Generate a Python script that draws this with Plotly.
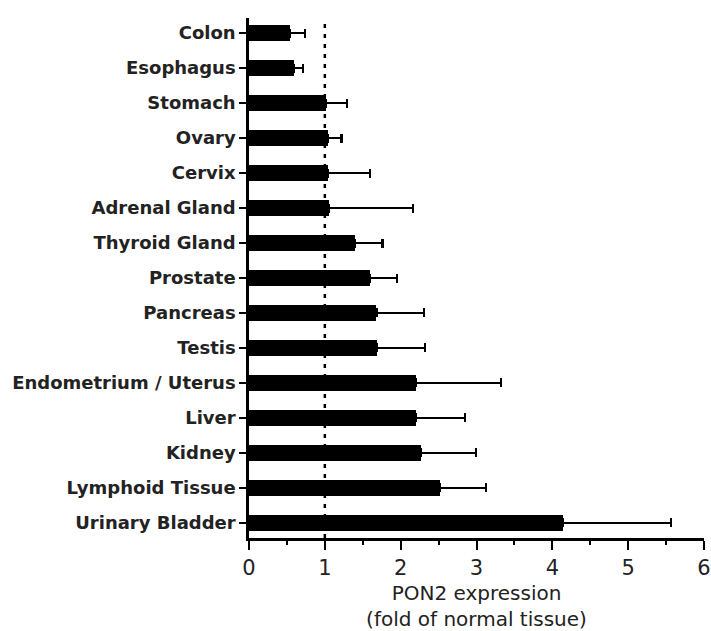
import plotly.graph_objects as go

categories = ["Colon", "Esophagus", "Stomach", "Ovary", "Cervix", "Adrenal Gland",
              "Thyroid Gland", "Prostate", "Pancreas", "Testis", "Endometrium / Uterus",
              "Liver", "Kidney", "Lymphoid Tissue", "Urinary Bladder"]
values = [0.54, 0.59, 1.02, 1.04, 1.04, 1.06, 1.40, 1.59, 1.68, 1.69, 2.20, 2.20, 2.27, 2.52, 4.14]
errors = [0.20, 0.12, 0.27, 0.18, 0.56, 1.10, 0.36, 0.36, 0.63, 0.63, 1.12, 0.65, 0.72, 0.61, 1.43]
x_ticks = [0, 1, 2, 3, 4, 5, 6]
reference_level = 1

fig = go.Figure()
fig.add_trace(go.Bar(
    y=categories, x=values, orientation="h",
    marker=dict(color="black", line=dict(width=0)),
    width=0.48,
    error_x=dict(type="data", array=errors, symmetric=False, arrayminus=[0]*len(errors),
                 color="black", thickness=2.2, width=4.5),
))

fig.add_shape(type="line", xref="x", yref="paper", x0=reference_level, x1=reference_level,
              y0=0, y1=1, line=dict(color="black", width=2.5, dash="4px,6px"), layer="above")

fig.update_layout(
    width=711, height=631,
    margin=dict(l=249, r=7, t=18, b=93),
    plot_bgcolor="white", paper_bgcolor="white",
    showlegend=False,
    bargap=0,
    font=dict(family="DejaVu Sans", color="#222"),
    xaxis=dict(
        range=[0, 6], tickvals=x_ticks, showgrid=False, zeroline=False, automargin=False,
        showline=True, linecolor="black", linewidth=2.5,
        ticks="outside", ticklen=9, tickwidth=2, tickcolor="black",
        minor=dict(ticks="outside", ticklen=4, tickwidth=2, dtick=0.5, tickcolor="black", showgrid=False),
        tickfont=dict(family="DejaVu Sans", size=21, color="#222"),
        title=dict(text="PON2 expression<br>(fold of normal tissue)",
                   font=dict(family="DejaVu Sans", size=20, color="#222"), standoff=11),
    ),
    yaxis=dict(
        type="category", range=[14.43, -0.43], showgrid=False, zeroline=False, automargin=False,
        showline=True, linecolor="black", linewidth=2.5,
        ticks="outside", ticklen=7, tickwidth=2, tickcolor="black",
        tickfont=dict(family="DejaVu Sans", size=18, color="#222", weight="bold"),
    ),
)

fig.write_html("out.html")
